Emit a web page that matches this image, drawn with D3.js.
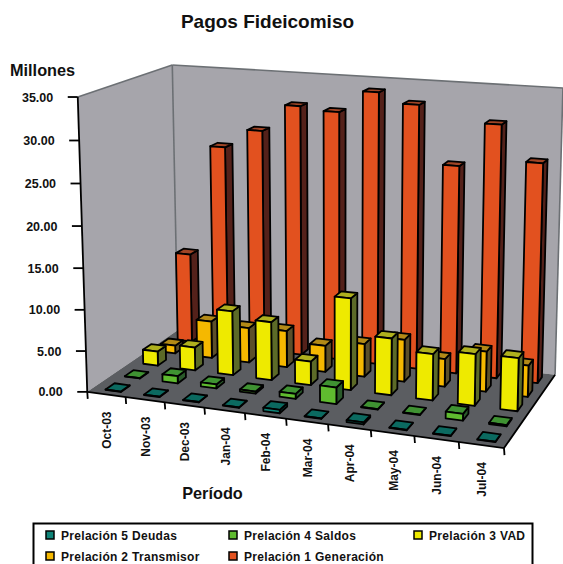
<!DOCTYPE html>
<html>
<head>
<meta charset="utf-8">
<script src="https://cdn.jsdelivr.net/npm/d3@7"></script>
<style>
html,body{margin:0;padding:0;background:#fff;overflow:hidden}
text{font-family:"Liberation Sans",Arial,sans-serif;font-weight:bold;fill:#111}
</style>
</head>
<body>
<svg id="chart" width="563" height="564"></svg>
<script>
// Monthly trust payments by priority tier, in millions
const months = ["Oct-03","Nov-03","Dec-03","Jan-04","Feb-04","Mar-04","Apr-04","May-04","Jun-04","Jul-04"];
const seriesNames = ["Prelación 5 Deudas","Prelación 4 Saldos","Prelación 3 VAD","Prelación 2 Transmisor","Prelación 1 Generación"];
const deudas     = [0.05,0.05,0.05,0.05,0.4,0.05,0.25,0.05,0.05,0.05];
const saldos     = [0.05,0.9,0.5,0.25,0.6,2.0,0.05,0.05,0.8,0.15];
const vad        = [1.8,2.9,8.0,7.2,2.9,11.2,6.9,5.6,6.2,6.3];
const transmisor = [1.0,4.7,4.4,4.6,3.3,4.1,5.2,3.4,4.9,3.8];
const generacion = [11.5,25.7,28.1,31.5,31.1,33.8,32.6,25.6,30.9,26.7];
const valueTicks = [0,5,10,15,20,25,30,35];

const faceColors = {
  "Prelación 5 Deudas":     {front:"#0f8478", top:"#0b6a60", side:"#063a36"},
  "Prelación 4 Saldos":     {front:"#5fbb2f", top:"#3f9232", side:"#2a5a2a"},
  "Prelación 3 VAD":        {front:"#eeea00", top:"#aeb01e", side:"#5c6a28"},
  "Prelación 2 Transmisor": {front:"#f5b800", top:"#b38a17", side:"#5c4f2a"},
  "Prelación 1 Generación": {front:"#e2511f", top:"#a04526", side:"#54211a"}
};
const seriesValues = [deudas,saldos,vad,transmisor,generacion];

// Perspective camera fitted to the box corners (u along months, v into the page, w up)
const corners = [
  [0,0,0, 87,392],[1,0,0, 504,448],[1,1,0, 555,375],[0,1,0, 178,330],
  [0,0,1, 78,97],[0,1,1, 172,65],[1,1,1, 563,88]
];
function fitCamera(pts){
  const rows=[],rhs=[];
  pts.forEach(([u,v,w,x,y])=>{
    rows.push([u,v,w,1,0,0,0,0,-x*u,-x*v,-x*w]);rhs.push(x);
    rows.push([0,0,0,0,u,v,w,1,-y*u,-y*v,-y*w]);rhs.push(y);
  });
  const n=11;
  const M=d3.range(n).map(i=>{
    const r=d3.range(n).map(j=>d3.sum(rows,row=>row[i]*row[j]));
    r.push(d3.sum(rows,(row,k)=>row[i]*rhs[k]));
    return r;
  });
  for(let c=0;c<n;c++){
    let p=c;
    for(let r=c+1;r<n;r++) if(Math.abs(M[r][c])>Math.abs(M[p][c])) p=r;
    [M[c],M[p]]=[M[p],M[c]];
    for(let r=0;r<n;r++){
      if(r===c) continue;
      const f=M[r][c]/M[c][c];
      for(let k=c;k<=n;k++) M[r][k]-=f*M[c][k];
    }
  }
  return M.map((r,i)=>r[n]/r[i]);
}
const cam = fitCamera(corners);
function project(u,v,w){
  const d=cam[8]*u+cam[9]*v+cam[10]*w+1;
  return [(cam[0]*u+cam[1]*v+cam[2]*w+cam[3])/d,(cam[4]*u+cam[5]*v+cam[6]*w+cam[7])/d];
}

const uScale = d3.scaleBand().domain(months).range([0,1]);
const vScale = d3.scaleBand().domain(seriesNames).range([0,1]);
const wScale = d3.scaleLinear().domain([0,35]).range([0,1]);
const barWidth = 0.40, barDepth = 0.46, barShift = 0.004;

const svg = d3.select("#chart");
const poly = d3.line().curve(d3.curveLinearClosed);
const edge = d3.line();

// Walls and floor
const walls = svg.append("g");
walls.append("path").attr("d",poly([[0,0,0],[0,1,0],[0,1,1],[0,0,1]].map(p=>project(...p))))
  .attr("fill","#a6a5ab");
walls.append("path").attr("d",poly([[0,1,0],[1,1,0],[1,1,1],[0,1,1]].map(p=>project(...p))))
  .attr("fill","#a6a5ab");
walls.append("path").attr("d",poly([[0,0,0],[1,0,0],[1,1,0],[0,1,0]].map(p=>project(...p))))
  .attr("fill","#5b5d61");
[[[0,0,1],[0,1,1]],[[0,1,1],[1,1,1]],[[0,1,0],[0,1,1]],[[1,1,0],[1,1,1]]].forEach(s=>{
  walls.append("path").attr("d",edge(s.map(p=>project(...p))))
    .attr("fill","none").attr("stroke","#6c7074").attr("stroke-width",1.6);
});

// Columns, painted from the back row forward and left to right
const barData=[];
seriesNames.slice().reverse().forEach(name=>{
  const vals=seriesValues[seriesNames.indexOf(name)];
  months.forEach((m,i)=>barData.push({name,month:m,value:vals[i]}));
});
const bars = svg.append("g").selectAll("g").data(barData).join("g");
bars.each(function(d){
  const g=d3.select(this);
  const cu=uScale(d.month)+uScale.bandwidth()/2+barShift, cv=vScale(d.name)+vScale.bandwidth()/2;
  const u0=cu-uScale.bandwidth()*barWidth/2, u1=cu+uScale.bandwidth()*barWidth/2;
  const v0=cv-vScale.bandwidth()*barDepth/2, v1=cv+vScale.bandwidth()*barDepth/2;
  const w=wScale(d.value), c=faceColors[d.name];
  const faces=[
    {k:"side", p:[[u1,v0,0],[u1,v1,0],[u1,v1,w],[u1,v0,w]]},
    {k:"top",  p:[[u0,v0,w],[u1,v0,w],[u1,v1,w],[u0,v1,w]]},
    {k:"front",p:[[u0,v0,0],[u1,v0,0],[u1,v0,w],[u0,v0,w]]}
  ];
  g.selectAll("path").data(faces).join("path")
    .attr("d",f=>poly(f.p.map(q=>project(...q))))
    .attr("fill",f=>c[f.k]).attr("stroke","#000").attr("stroke-width",1.8)
    .attr("stroke-linejoin","round");
});

// Value axis along the front left edge
const axisG=svg.append("g");
axisG.append("path").attr("d",edge([[0,0,0],[0,0,1]].map(p=>project(...p))))
  .attr("stroke","#000").attr("stroke-width",1.8).attr("fill","none");
valueTicks.forEach(t=>{
  const [x,y]=project(0,0,wScale(t));
  axisG.append("line").attr("x1",x-10).attr("x2",x).attr("y1",y).attr("y2",y)
    .attr("stroke","#000").attr("stroke-width",1.8);
  axisG.append("text").attr("x",x-24.5).attr("y",y+4.5).attr("text-anchor","end")
    .attr("font-size",12.5).text(d3.format(".2f")(t));
});

// Month axis along the front edge of the floor
axisG.append("path").attr("d",edge([[0,0,0],[1,0,0],[1,1,0]].map(p=>project(...p))))
  .attr("stroke","#000").attr("stroke-width",1.8).attr("fill","none");
months.concat([null]).forEach((m,i)=>{
  const u=i/months.length;
  const [x,y]=project(u,0,0);
  axisG.append("line").attr("x1",x).attr("x2",x+0.5).attr("y1",y).attr("y2",y+7)
    .attr("stroke","#000").attr("stroke-width",1.8);
  if(m){
    const cx=project(u+uScale.bandwidth()/2,0,0);
    axisG.append("text")
      .attr("transform",`translate(${cx[0]+5},${cx[1]+17}) rotate(-90)`)
      .attr("text-anchor","end").attr("font-size",12).text(m);
  }
});

// Titles
svg.append("text").attr("x",267.5).attr("y",28).attr("text-anchor","middle").attr("font-size",19).text("Pagos Fideicomiso");
svg.append("text").attr("x",10).attr("y",76).attr("font-size",16.3).text("Millones");
svg.append("text").attr("x",212.5).attr("y",499).attr("text-anchor","middle").attr("font-size",16.3).text("Período");

// Legend
const legend=svg.append("g");
legend.append("rect").attr("x",33.5).attr("y",523.5).attr("width",499).attr("height",60)
  .attr("fill","#fff").attr("stroke","#000").attr("stroke-width",2);
const legendX=[46,229,414], legendY=[535,556];
seriesNames.forEach((name,i)=>{
  const x=legendX[i%3], y=legendY[Math.floor(i/3)];
  legend.append("rect").attr("x",x).attr("y",y-4).attr("width",8).attr("height",8)
    .attr("fill",faceColors[name].front).attr("stroke","#000").attr("stroke-width",1.5);
  legend.append("text").attr("x",x+15).attr("y",y+4.5).attr("font-size",12)
    .attr("letter-spacing",0.3).text(name);
});
</script>
</body>
</html>
